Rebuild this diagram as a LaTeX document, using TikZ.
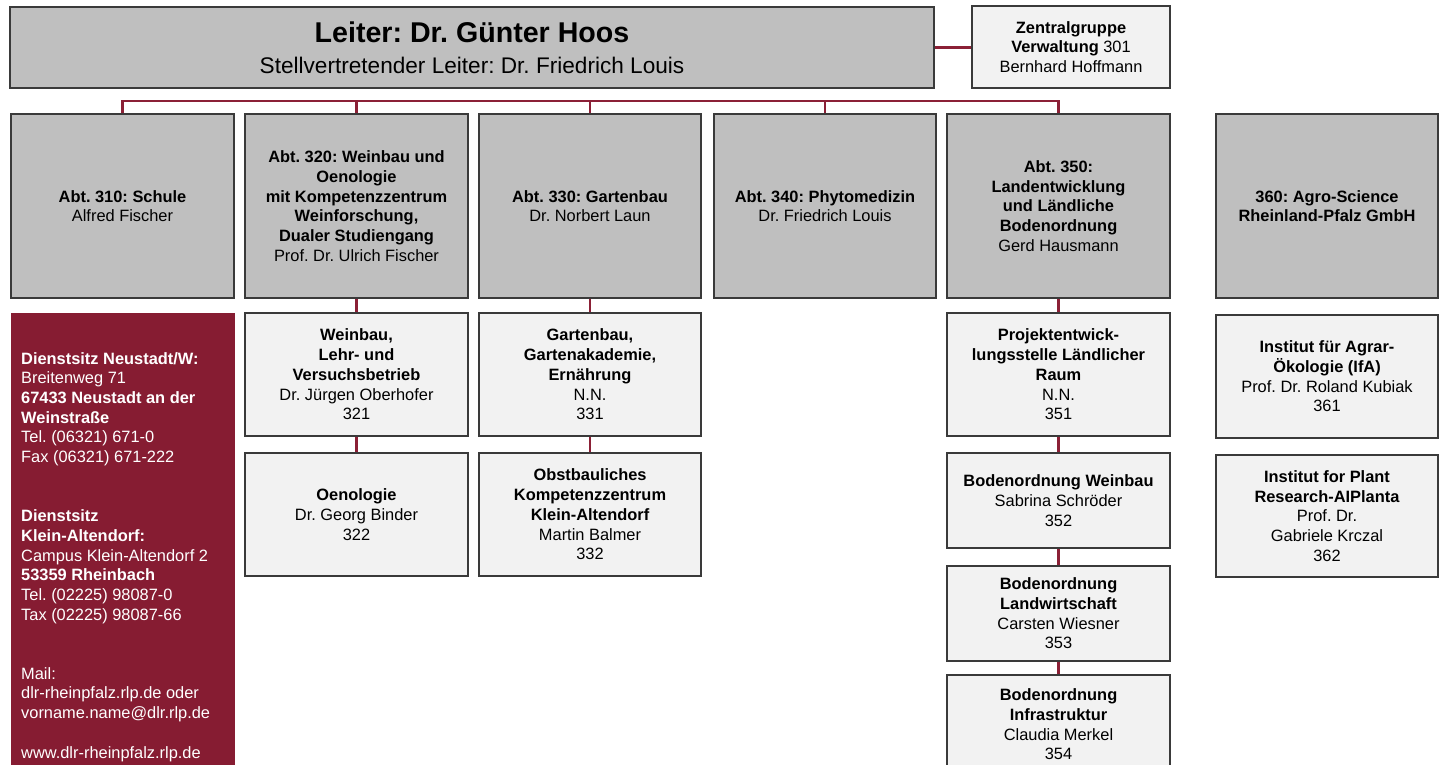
\documentclass[tikz,border=0pt]{standalone}
\usepackage{fontspec}
\setmainfont{Liberation Sans}
\frenchspacing
\definecolor{deptgray}{HTML}{BFBFBF}
\definecolor{unitgray}{HTML}{F2F2F2}
\definecolor{bordercol}{HTML}{3A3A3A}
\definecolor{linkred}{HTML}{8B2036}
\definecolor{infored}{HTML}{861C32}
\newcommand{\fsnorm}{\fontsize{16.4}{19.7}\selectfont}
\begin{document}
\begin{tikzpicture}[x=1pt,y=-1pt,
  box/.style={draw=bordercol, line width=1.4pt, inner sep=0pt, align=center, font=\fsnorm},
  dept/.style={box, fill=deptgray},
  unit/.style={box, fill=unitgray},
  link/.style={draw=linkred, line width=2.4pt}]
\useasboundingbox (0,0) rectangle (1440,765);
% header
\node[dept, minimum width=924, minimum height=81, font=\fontsize{22.6}{31}\selectfont] (head) at (472,47.5)
  {{\fontsize{28.6}{31}\selectfont\bfseries Leiter: Dr. Günter Hoos}\\Stellvertretender Leiter: Dr. Friedrich Louis};
\node[unit, minimum width=198, minimum height=82] (zg) at (1071,47)
  {\textbf{Zentralgruppe}\\\textbf{Verwaltung} 301\\Bernhard Hoffmann};
% departments
\node[dept, minimum width=223, minimum height=184] (d310) at (122.5,206) {\textbf{Abt. 310: Schule}\\Alfred Fischer};
\node[dept, minimum width=223, minimum height=184] (d320) at (356.5,206)
  {\textbf{Abt. 320: Weinbau und}\\\textbf{Oenologie}\\\textbf{mit Kompetenzzentrum}\\\textbf{Weinforschung,}\\\textbf{Dualer Studiengang}\\Prof. Dr. Ulrich Fischer};
\node[dept, minimum width=222, minimum height=184] (d330) at (590,206) {\textbf{Abt. 330: Gartenbau}\\Dr. Norbert Laun};
\node[dept, minimum width=222, minimum height=184] (d340) at (825,206) {\textbf{Abt. 340: Phytomedizin}\\Dr. Friedrich Louis};
\node[dept, minimum width=223, minimum height=184] (d350) at (1058.5,206)
  {\textbf{Abt. 350:}\\\textbf{Landentwicklung}\\\textbf{und Ländliche}\\\textbf{Bodenordnung}\\Gerd Hausmann};
\node[dept, minimum width=222, minimum height=184] (d360) at (1327,206) {\textbf{360: Agro-Science}\\\textbf{Rheinland-Pfalz GmbH}};
% units
\node[unit, minimum width=223, minimum height=123] (u321) at (356.5,374.5)
  {\textbf{Weinbau,}\\\textbf{Lehr- und}\\\textbf{Versuchsbetrieb}\\Dr. Jürgen Oberhofer\\321};
\node[unit, minimum width=223, minimum height=123] (u322) at (356.5,514.5)
  {\textbf{Oenologie}\\Dr. Georg Binder\\322};
\node[unit, minimum width=222, minimum height=123] (u331) at (590,374.5)
  {\textbf{Gartenbau,}\\\textbf{Gartenakademie,}\\\textbf{Ernährung}\\N.N.\\331};
\node[unit, minimum width=222, minimum height=123] (u332) at (590,514.5)
  {\textbf{Obstbauliches}\\\textbf{Kompetenzzentrum}\\\textbf{Klein-Altendorf}\\Martin Balmer\\332};
\node[unit, minimum width=223, minimum height=123] (u351) at (1058.5,374.5)
  {\textbf{Projektentwick-}\\\textbf{lungsstelle Ländlicher}\\\textbf{Raum}\\N.N.\\351};
\node[unit, minimum width=223, minimum height=95] (u352) at (1058.5,500.5)
  {\textbf{Bodenordnung Weinbau}\\Sabrina Schröder\\352};
\node[unit, minimum width=223, minimum height=95] (u353) at (1058.5,613.5)
  {\textbf{Bodenordnung}\\\textbf{Landwirtschaft}\\Carsten Wiesner\\353};
\node[unit, minimum width=223, minimum height=99] (u354) at (1058.5,724.5)
  {\textbf{Bodenordnung}\\\textbf{Infrastruktur}\\Claudia Merkel\\354};
\node[unit, minimum width=222, minimum height=123] (u361) at (1327,376.5)
  {\textbf{Institut für Agrar-}\\\textbf{Ökologie (IfA)}\\Prof. Dr. Roland Kubiak\\361};
\node[unit, minimum width=222, minimum height=122] (u362) at (1327,516)
  {\textbf{Institut for Plant}\\\textbf{Research-AIPlanta}\\Prof. Dr.\\Gabriele Krczal\\362};
% info box
\node[fill=infored, minimum width=224, minimum height=480, inner sep=0pt, anchor=north west] (info) at (11,313) {};
\node[anchor=north west, inner sep=0pt, align=left, text=white, font=\fsnorm] (infotext) at (21,352)
  {\textbf{Dienstsitz Neustadt/W:}\\Breitenweg 71\\\textbf{67433 Neustadt an der}\\\textbf{Weinstraße}\\Tel. (06321) 671-0\\Fax (06321) 671-222\\[39.4pt]
   \textbf{Dienstsitz}\\\textbf{Klein-Altendorf:}\\Campus Klein-Altendorf 2\\\textbf{53359 Rheinbach}\\Tel. (02225) 98087-0\\Tax (02225) 98087-66\\[39.4pt]
   Mail:\\dlr-rheinpfalz.rlp.de oder\\vorname.name@dlr.rlp.de\\[19.7pt]
   www.dlr-rheinpfalz.rlp.de};
% connectors
\coordinate (busR) at (1058.5,101);
\draw[link] (head.east) -- (head.east -| zg.west);
\draw[link] (d310.north) |- (busR) -- (d350.north);
\draw[link] (d320.north) -- (d320.north |- busR);
\draw[link] (d330.north) -- (d330.north |- busR);
\draw[link] (d340.north) -- (d340.north |- busR);
\draw[link] (d320.south) -- (u321.north);
\draw[link] (u321.south) -- (u322.north);
\draw[link] (d330.south) -- (u331.north);
\draw[link] (u331.south) -- (u332.north);
\draw[link] (d350.south) -- (u351.north);
\draw[link] (u351.south) -- (u352.north);
\draw[link] (u352.south) -- (u353.north);
\draw[link] (u353.south) -- (u354.north);
\end{tikzpicture}
\end{document}
